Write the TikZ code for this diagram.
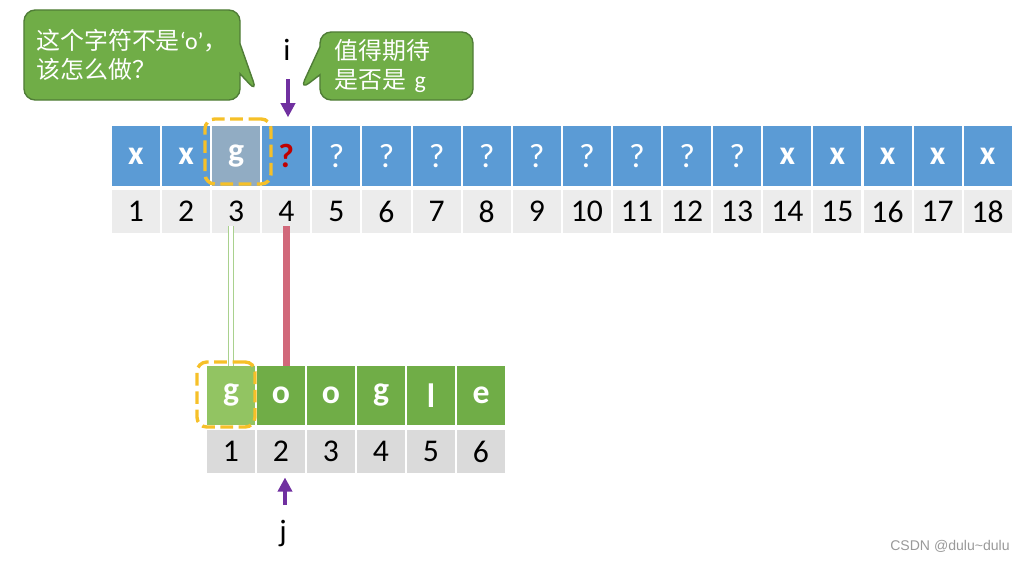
\documentclass[tikz,border=0pt]{standalone}
\usepackage{fontspec}
\setmainfont{Carlito}
\newfontfamily\cjk{Noto Sans CJK SC}
\newfontfamily\wmfont{Liberation Sans}
\definecolor{kmpblue}{RGB}{91,155,213}
\definecolor{kmpslate}{RGB}{145,172,195}
\definecolor{kmpgreen}{RGB}{112,173,71}
\definecolor{kmplight}{RGB}{146,196,98}
\definecolor{kmpgray}{RGB}{236,236,236}
\definecolor{kmpgraydk}{RGB}{218,218,218}
\definecolor{kmpyellow}{RGB}{246,192,40}
\definecolor{kmppurple}{RGB}{112,48,160}
\definecolor{kmpred}{RGB}{209,104,122}
\definecolor{kmpqred}{RGB}{192,0,0}
\definecolor{kmptalkline}{RGB}{80,125,55}
\definecolor{kmpline}{RGB}{169,209,142}
\usetikzlibrary{arrows.meta,positioning,shapes.callouts}

\begin{document}
\begin{tikzpicture}[x=0.025cm,y=-0.025cm,
  kmpcell/.style={minimum width=1.2cm,minimum height=1.5cm,inner sep=0pt,
    text=white,font=\fontsize{24}{28}\selectfont\bfseries},
  kmpnum/.style={minimum width=1.2cm,minimum height=1.075cm,inner sep=0pt,
    font=\fontsize{22.5}{27}\selectfont},
  kmpdash/.style={draw=kmpyellow,line width=2.4pt,dash pattern=on 9pt off 4pt,
    rounded corners=7pt,inner sep=0pt},
  kmparr/.style={-{Triangle[length=10pt,width=10pt]},line width=2.4pt,kmppurple},
  kmptalk/.style={rectangle callout,draw=kmptalkline,fill=kmpgreen,line width=1pt,
    rounded corners=8pt,text=white,align=left,inner sep=0pt,
    font=\cjk\fontsize{17}{21}\selectfont}
]
  \useasboundingbox (0,0) rectangle (1025,561);
  % text row
  \foreach \k/\c in {1/x,2/x,14/x,15/x,16/x,17/x,18/x}
    \node[kmpcell,fill=kmpblue] (t\k) at ({136+50.1*(\k-1)},156) {\c};
  \foreach \k in {5,...,13}
    \node[kmpcell,fill=kmpblue] (t\k) at ({136+50.1*(\k-1)},156) {\mdseries ?};
  \node[kmpcell,fill=kmpslate] (t3) at ({136+50.1*2},156) {g};
  \node[kmpcell,fill=kmpblue,text=kmpqred] (t4) at ({136+50.1*3},156) {?};
  \foreach \k in {1,...,18}
    \node[kmpnum,fill=kmpgray] (n\k) at ({136+50.1*(\k-1)},211.5) {\k};
  % pattern row
  \node[kmpcell,fill=kmplight,minimum height=1.475cm] (b1) at (231,395.5) {g};
  \foreach \k/\c in {2/o,3/o,4/g,5/l,6/e}
    \node[kmpcell,fill=kmpgreen,minimum height=1.475cm] (b\k) at ({231+50*(\k-1)},395.5) {\c};
  \foreach \k in {1,...,6}
    \node[kmpnum,fill=kmpgraydk] (m\k) at ({231+50*(\k-1)},451.5) {\k};
  % links
  \draw[kmpline,line width=1.1pt,double=white,double distance=2.4pt]
    ([yshift=5pt]b1.north |- n3.south) -- (b1.north);
  \draw[kmpred,line width=5pt] ([yshift=5pt]n4.south) -- (n4.south |- b2.north);
  % highlight
  \node[kmpdash,minimum width=1.65cm,minimum height=1.625cm] (hit) at (238,151.5) {};
  \node[kmpdash,minimum width=1.45cm,minimum height=1.625cm] (hitb) at (226,394.5) {};
  % pointers
  \node[font=\fontsize{22}{26}\selectfont] (ilab) at (287,50) {i};
  \coordinate (itail) at (288,79);
  \draw[kmparr,shorten >=6pt] (itail) -- (itail |- t4.north);
  \node[font=\fontsize{22}{26}\selectfont] (jlab) at (283,533) {j};
  \coordinate (jtail) at (285,505);
  \draw[kmparr,shorten >=3pt] (jtail) -- (jtail |- m2.south);
  % callouts
  \node[kmptalk,minimum width=5.4cm,minimum height=2.25cm,
    callout absolute pointer={(257,92)},callout pointer width=0.75cm] (ask) at (132,55)
    {这个字符不是{\rmfamily ‘o’}，\\该怎么做？};
  \node[kmptalk,minimum width=3.825cm,minimum height=1.7cm,text width=3.075cm,
    callout absolute pointer={(300,90)},callout pointer width=0.7cm] (hope) at (396.5,66)
    {值得期待\\是否是{\rmfamily\ g}};
  \node[font=\wmfont\fontsize{10}{12}\selectfont,text=gray!80] (mark) at (950,546)
    {CSDN @dulu\textasciitilde dulu};
\end{tikzpicture}
\end{document}
